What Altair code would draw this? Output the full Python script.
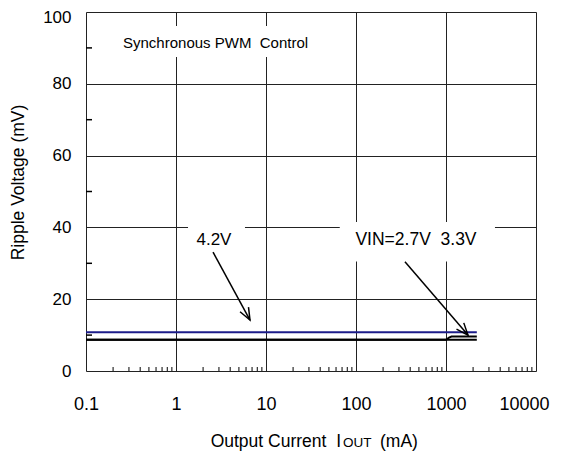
import altair as alt
import pandas as pd

# ---- data ----
x_ticks = [0.1, 1, 10, 100, 1000, 10000]
y_ticks = [0, 20, 40, 60, 80, 100]
x_minor = [m * 10.0 ** e for e in range(-1, 4) for m in range(2, 10)]
y_minor = [10, 30, 50, 70, 90]

iout_42 = [0.1, 2200]
ripple_42 = [10.8, 10.8]
iout_27 = [0.1, 2200]
ripple_27 = [8.7, 8.7]
iout_33 = [0.1, 1000, 1080, 1150, 2200]
ripple_33 = [8.7, 8.7, 9.3, 9.6, 9.6]

# annotations (data coordinates: mA, mV)
ann_text = ["Synchronous PWM\u00a0 Control", "4.2V", "VIN=2.7V\u00a0 3.3V"]
ann_x = [2.75, 2.64, 464]
ann_y = [91.4, 36.5, 36.5]
ann_size = [15, 17, 17.5]
box_x = [0.185, 1.36, 66]
box_x2 = [37.8, 5.84, 3500]
box_y = [87.5, 32.5, 30.5]
box_y2 = [96.1, 41.5, 41.5]
arrow_x = [2.58, 350]
arrow_y = [33.1, 30.4]
arrow_x2 = [6.64, 1755]
arrow_y2 = [14.2, 10.0]
arrow_angle = [61.5, 49.2]

rows = []
for s, xs, ys in [("4.2V", iout_42, ripple_42), ("2.7V", iout_27, ripple_27), ("3.3V", iout_33, ripple_33)]:
    for a, b in zip(xs, ys):
        rows.append({"series": s, "iout": a, "ripple": b})
df = pd.DataFrame(rows)

W, H = 450, 359
xscale = alt.Scale(type="log", domain=[0.1, 10000])
yscale = alt.Scale(domain=[0, 100])
FONT = "Liberation Sans"

xaxis = alt.Axis(values=x_ticks, format="~g", grid=True, gridColor="#222", gridWidth=1,
                 ticks=False, domain=False, labelPadding=24, labelFontSize=18,
                 labelFontWeight="normal",
                 labelFont=FONT, labelColor="black", labelFlush=False,
                 labelOffset={"condition": {"test": "datum.value == 10000", "value": -12}, "value": 0},
                 title=None)
yaxis = alt.Axis(values=y_ticks, grid=True, gridColor="#222", gridWidth=1,
                 ticks=False, domain=False, labelPadding=15, labelFontSize=17,
                 labelFontWeight="normal",
                 labelFont=FONT, labelColor="black",
                 labelBaseline={"condition": {"test": "datum.value == 100", "value": "alphabetic"}, "value": "middle"},
                 labelOffset={"condition": {"test": "datum.value == 100", "value": 10}, "value": 0},
                 title="Ripple Voltage (mV)", titleFont=FONT, titleFontSize=17.5,
                 titleFontWeight="normal", titleColor="black", titleAngle=270,
                 titleX=-68, titleY=170, titleAlign="center", titleBaseline="middle")

base = alt.Chart(df)

lines = base.mark_line(strokeWidth=2).encode(
    x=alt.X("iout:Q", scale=xscale, axis=xaxis),
    y=alt.Y("ripple:Q", scale=yscale, axis=yaxis),
    color=alt.Color("series:N", scale=alt.Scale(domain=["4.2V", "2.7V", "3.3V"],
                                                range=["#1c1c8a", "#000000", "#000000"]),
                    legend=None),
    detail="series:N",
)

minor_x = alt.Chart(pd.DataFrame({"v": x_minor})).mark_rule(color="black", strokeWidth=1).encode(
    x=alt.X("v:Q", scale=xscale), y=alt.value(H), y2=alt.value(H - 4))
minor_y = alt.Chart(pd.DataFrame({"v": y_minor})).mark_rule(color="black", strokeWidth=1.5).encode(
    y=alt.Y("v:Q", scale=yscale), x=alt.value(0), x2=alt.value(6))

ann = pd.DataFrame({"t": ann_text, "x": ann_x, "y": ann_y, "s": ann_size,
                    "bx": box_x, "bx2": box_x2, "by": box_y, "by2": box_y2})
boxes = alt.Chart(ann).mark_rect(fill="white", stroke=None).encode(
    x=alt.X("bx:Q", scale=xscale), x2="bx2:Q",
    y=alt.Y("by:Q", scale=yscale), y2="by2:Q")
texts = alt.Chart(ann).mark_text(font=FONT, color="black", baseline="middle", align="center").encode(
    x=alt.X("x:Q", scale=xscale), y=alt.Y("y:Q", scale=yscale), text="t:N",
    size=alt.Size("s:Q", scale=None, legend=None))

arr = pd.DataFrame({"x": arrow_x, "y": arrow_y, "x2": arrow_x2, "y2": arrow_y2, "a": arrow_angle})
shafts = alt.Chart(arr).mark_rule(color="black", strokeWidth=1.5).encode(
    x=alt.X("x:Q", scale=xscale), x2="x2:Q", y=alt.Y("y:Q", scale=yscale), y2="y2:Q")
heads = alt.Chart(arr).mark_point(shape="M -1 -0.4 L 0 0 L -1 0.4", filled=False, stroke="black",
                                  strokeWidth=1.5, size=576, opacity=1).encode(
    x=alt.X("x2:Q", scale=xscale), y=alt.Y("y2:Q", scale=yscale),
    angle=alt.Angle("a:Q", scale=None))

t1 = alt.Chart(pd.DataFrame({"t": ["Output Current\u00a0 I"]})).mark_text(
    font=FONT, fontSize=17.5, align="right", baseline="alphabetic", color="black").encode(
    text="t:N", x=alt.value(255), y=alt.value(435))
t2 = alt.Chart(pd.DataFrame({"t": ["OUT"]})).mark_text(
    font=FONT, fontSize=13.5, align="left", baseline="alphabetic", color="black").encode(
    text="t:N", x=alt.value(257), y=alt.value(435))
t3 = alt.Chart(pd.DataFrame({"t": ["(mA)"]})).mark_text(
    font=FONT, fontSize=17.5, align="left", baseline="alphabetic", color="black").encode(
    text="t:N", x=alt.value(294), y=alt.value(435))

chart = alt.layer(lines, minor_x, minor_y, boxes, texts, shafts, heads, t1, t2, t3).properties(
    width=W, height=H,
    padding={"left": 78, "top": 4, "right": 21, "bottom": 81},
    autosize=alt.AutoSizeParams(type="none"),
).configure_view(stroke="black", strokeWidth=2).configure(background="white")

chart.save("out.html", embed_options={"renderer": "svg", "actions": False})
